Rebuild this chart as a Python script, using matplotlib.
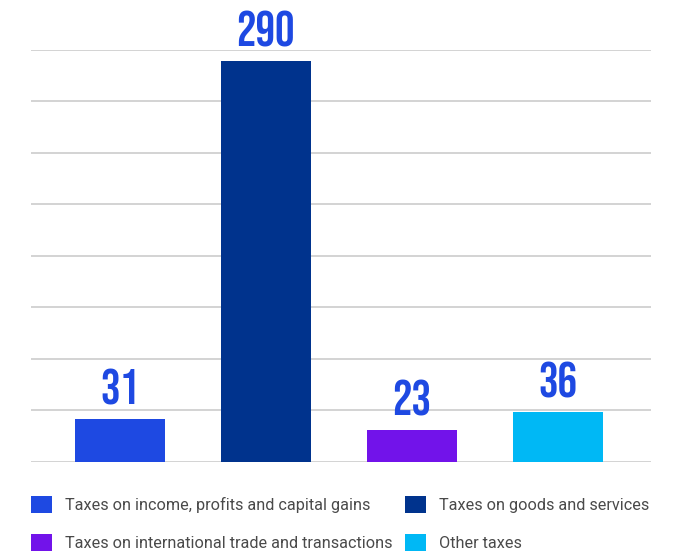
import matplotlib
matplotlib.use('Agg')
import matplotlib.pyplot as plt
import numpy as np

categories = ['Taxes on income, profits and capital gains',
              'Taxes on goods and services',
              'Taxes on international trade and transactions',
              'Other taxes']
values = [31, 290, 23, 36]
colors = ['#1E49E2', '#00338D', '#7213EA', '#00B8F5']
y_top = 298
grid_ticks = np.linspace(0, y_top, 9)

fig = plt.figure(figsize=(6.91, 5.56), dpi=100)
ax = fig.add_axes([0.0449, 0.1696, 0.8973, 0.7405])

x = np.arange(len(values))
bars = ax.bar(x, values, width=0.615, color=colors, zorder=3)

for xi, v in zip(x, values):
    ax.annotate(str(v), (xi, v), xytext=(0, 10), textcoords='offset points',
                ha='center', va='bottom', color='#1E49E2', fontsize=35,
                family=['Bebas Neue', 'DejaVu Sans'])

ax.set_xlim(-0.607, 3.637)
ax.set_ylim(0, y_top)
ax.set_yticks(grid_ticks)
ax.yaxis.grid(True, color='#c8c8c8', linewidth=1.1, zorder=0)
ax.tick_params(left=False, bottom=False, labelleft=False, labelbottom=False)
for s in ax.spines.values():
    s.set_visible(False)

order = [0, 2, 1, 3]
fig.legend([bars[i] for i in order], [categories[i] for i in order],
           ncol=2, loc='upper left', bbox_to_anchor=(0.0449, 0.108),
           frameon=False, handlelength=1.27, handleheight=1.27,
           handletextpad=0.8, columnspacing=0.8, labelspacing=1.25,
           borderpad=0, borderaxespad=0,
           prop={'family': 'Roboto', 'size': 11.7}, labelcolor='#4a4a4a')

fig.savefig('out.png', dpi=100)
